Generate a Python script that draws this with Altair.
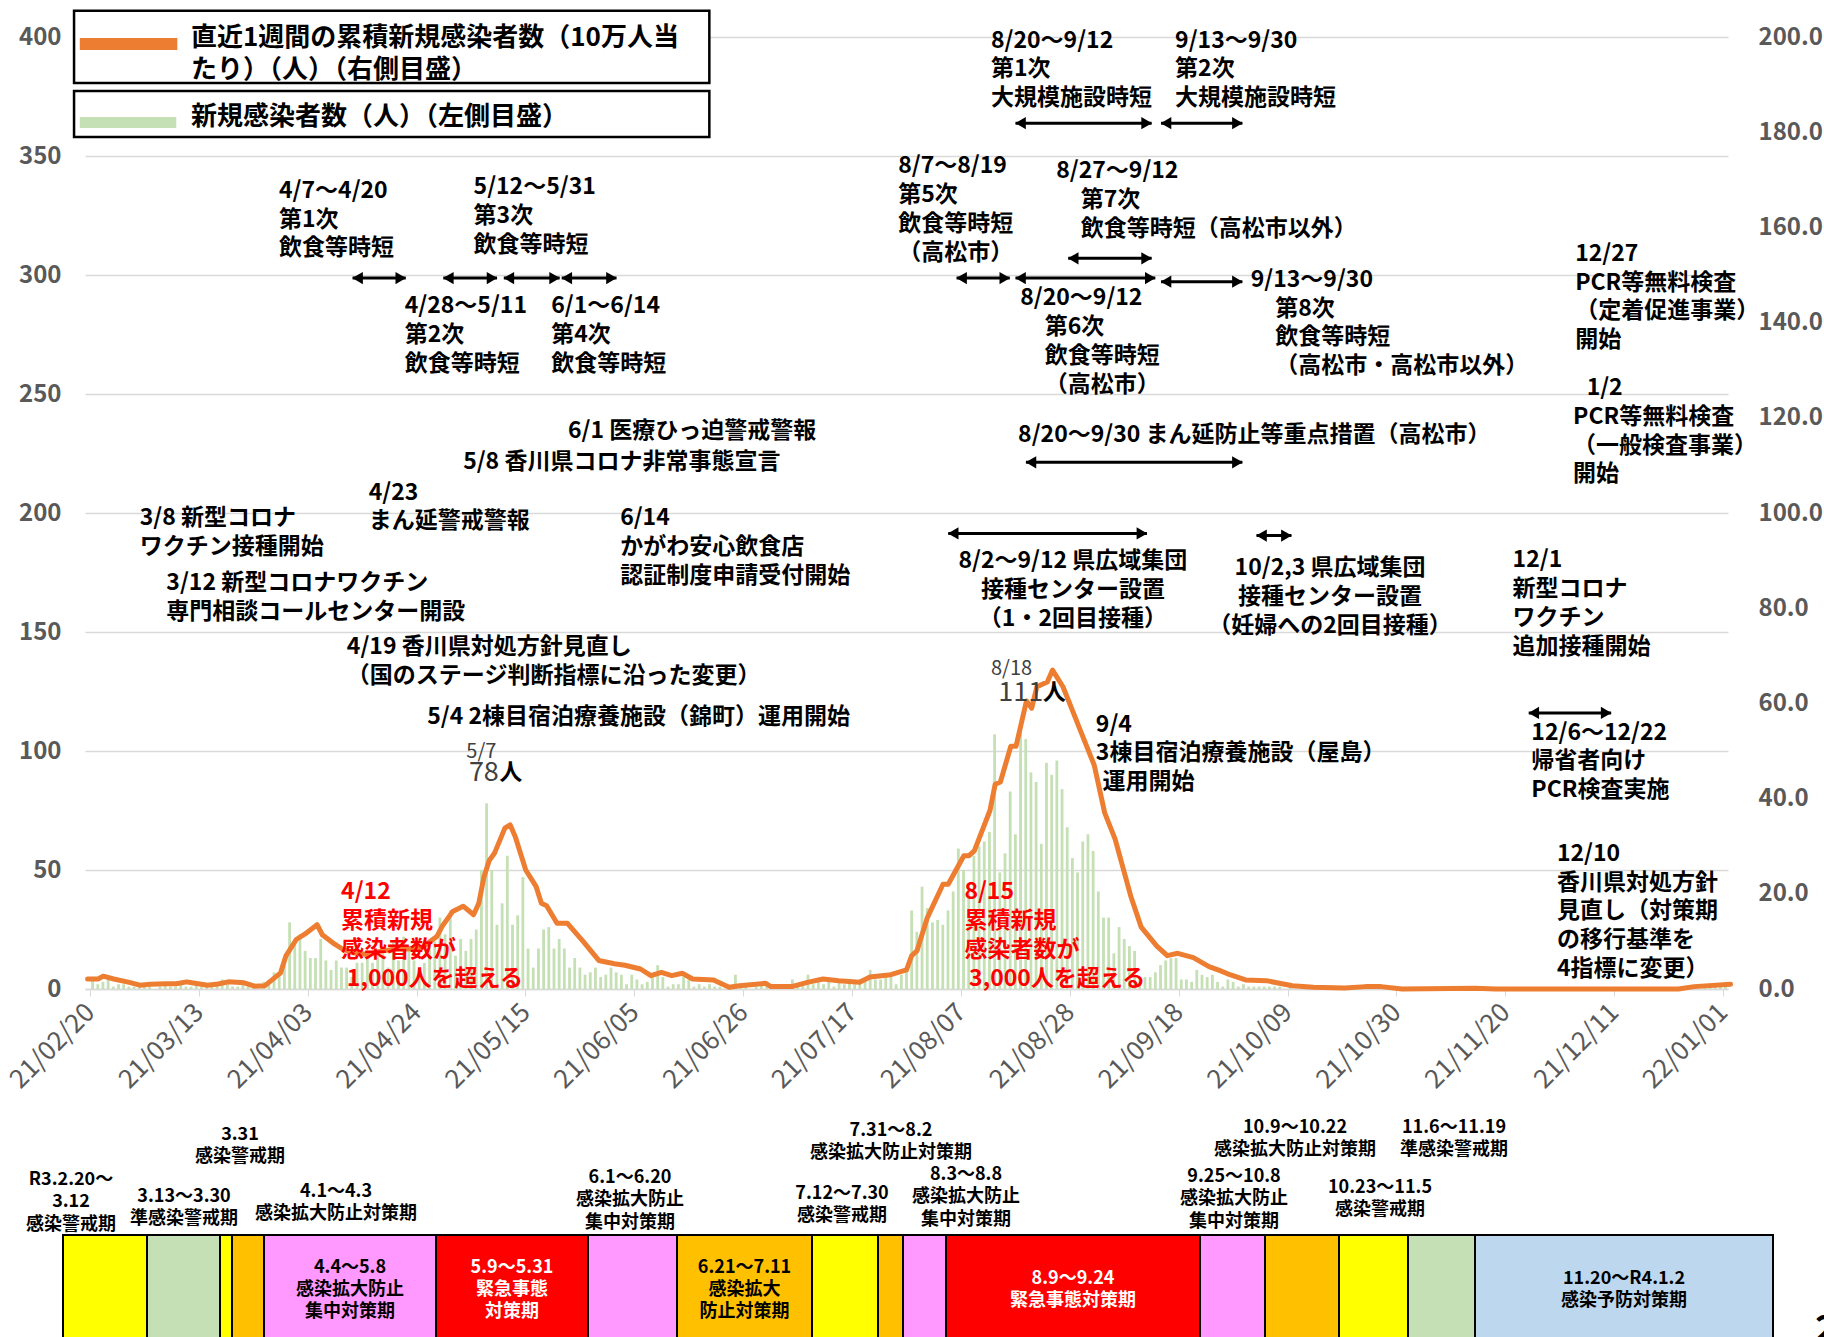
import altair as alt
import pandas as pd

FONT = "Noto Sans CJK JP"
START = pd.Timestamp("2021-02-20")

# ---------------- daily new cases (left axis), 2021-02-20 .. 2022-01-01 ----------------
cases_feb_mar = [4, 2, 3, 4, 1, 2, 2, 1, 1, 1,
                 1, 1, 0, 1, 2, 1, 1, 2, 1, 1,
                 2, 1, 1, 2, 3, 4, 3, 1, 1, 2,
                 1, 1, 0, 3, 2, 7, 6, 13, 28, 19]
cases_apr_may = [23, 16, 13, 13, 21, 12, 8, 12, 9, 9,
                 5, 11, 11, 15, 11, 15, 15, 9, 20, 12,
                 22, 16, 12, 9, 11, 18, 20, 30, 23, 33,
                 14, 21, 16, 21, 25, 50, 78, 50, 27, 36,
                 56, 27, 31, 47, 17, 9, 17, 25, 26, 17]
cases_jun_jul = [21, 17, 9, 13, 9, 6, 7, 9, 5, 6,
                 9, 7, 6, 2, 6, 4, 2, 3, 5, 10,
                 5, 1, 2, 2, 5, 4, 1, 2, 1, 2,
                 1, 1, 0, 0, 6, 1, 1, 0, 1, 2,
                 1, 0, 1, 1, 2, 4, 1, 2, 6, 2,
                 3, 2, 3, 1, 4, 2, 3, 2, 4, 3]
cases_jul_sep = [8, 4, 4, 5, 5, 2, 6, 8, 33, 24,
                 43, 34, 28, 29, 27, 33, 41, 59, 50, 44,
                 56, 60, 62, 66, 107, 49, 57, 83, 65, 111,
                 105, 91, 87, 61, 95, 90, 96, 84, 68, 55,
                 49, 62, 65, 58, 41, 30, 30, 15, 26, 21,
                 18, 16, 5, 5, 5, 7, 10, 12, 13, 13]
cases_sep_jan = [4, 4, 3, 8, 6, 5, 6, 3, 1, 4,
                 3, 1, 2, 1, 1, 1, 1, 1, 1, 1,
                 0, 1, 0, 0, 1, 0, 0, 0, 1, 1,
                 0, 0, 1, 0, 1, 1, 0, 1, 0, 0,
                 0, 0, 0, 0, 0, 0, 0, 0, 0, 0,
                 0, 0, 1, 0, 0, 0, 0, 0, 0, 0,
                 0, 0, 0, 0, 0, 0, 0, 0, 0, 0,
                 0, 0, 0, 0, 0, 0, 0, 0, 0, 0,
                 0, 0, 0, 0, 0, 0, 0, 0, 0, 0,
                 0, 0, 0, 0, 0, 0, 0, 0, 0, 1,
                 0, 2, 1, 1, 2, 3]
new_cases = cases_feb_mar + cases_apr_may + cases_jun_jul + cases_jul_sep + cases_sep_jan

# ---------------- 7-day cumulative per 100k (right axis) ----------------
line_day = [0, 2, 3, 5, 8, 10, 12, 15, 17, 19, 20, 23, 25, 27, 30, 32, 34, 35, 37, 38,
            40, 42, 44, 45, 47, 49, 51, 54, 56, 59, 61, 64, 67, 68, 70, 72, 74,
            75, 76, 77, 78, 80, 81, 82, 84, 86, 87, 88, 90, 92, 95, 98, 101, 103, 106,
            108, 110, 112, 114, 116, 120, 123, 125, 130, 131, 135, 138, 141, 144, 148,
            150, 154, 157, 158, 159, 161, 164, 165, 168, 169, 170, 173, 174, 175, 177, 178,
            180, 181, 182, 184, 185, 187, 189, 191, 193, 195, 197, 200, 202, 205, 207, 209,
            212, 215, 217, 219, 222, 226, 228, 231, 235, 241, 245, 248, 252, 266, 270,
            305, 308, 315]
line_val = [2.1, 2.1, 2.7, 2.1, 1.4, 0.8, 1.0, 1.1, 1.1, 1.5, 1.3, 0.8, 1.05, 1.5, 1.3, 0.6, 0.7, 1.6, 3.4, 6.9,
            10.4, 11.8, 13.5, 11.4, 9.7, 8.3, 7.6, 7.2, 7.9, 8.4, 8.4, 8.6, 11.1, 13.2, 16.3, 17.4, 15.6,
            18.0, 23.6, 27.0, 28.5, 33.8, 34.5, 32.0, 25.0, 21.5, 18.0, 17.5, 13.8, 13.8, 10.0, 6.0, 5.3, 5.0, 4.2,
            2.8, 3.5, 2.8, 3.3, 2.1, 1.9, 0.35, 0.7, 1.2, 0.5, 0.5, 1.4, 2.1, 1.75, 1.4,
            2.5, 3.0, 4.0, 7.0, 8.0, 15.0, 22.0, 22.0, 28.0, 28.0, 29.0, 37.5, 43.0, 43.5, 51.0, 51.0,
            60.5, 59.0, 63.5, 64.5, 67.0, 63.5, 58.0, 52.5, 47.0, 37.0, 31.5, 19.5, 13.0, 9.0, 7.0, 7.5,
            6.6, 4.7, 3.9, 3.0, 1.9, 1.75, 1.3, 0.7, 0.35, 0.2, 0.5, 0.5, 0.0, 0.15, 0.0,
            0.0, 0.5, 1.0]

tick_dates = ["2021-02-20", "2021-03-13", "2021-04-03", "2021-04-24", "2021-05-15", "2021-06-05",
              "2021-06-26", "2021-07-17", "2021-08-07", "2021-08-28", "2021-09-18", "2021-10-09",
              "2021-10-30", "2021-11-20", "2021-12-11", "2022-01-01"]
left_ticks = [0, 50, 100, 150, 200, 250, 300, 350, 400]
right_ticks = [0, 20, 40, 60, 80, 100, 120, 140, 160, 180, 200]

# ---------------- annotations: (day position, left-axis value, colour, lines) ----------------
ann_left = [
    (37.2, 335.4, "black", ["4/7～4/20", "第1次", "飲食等時短"]),
    (74.5, 336.8, "black", ["5/12～5/31", "第3次", "飲食等時短"]),
    (61.3, 286.9, "black", ["4/28～5/11", "第2次", "飲食等時短"]),
    (89.4, 286.9, "black", ["6/1～6/14", "第4次", "飲食等時短"]),
    (92.6, 234.5, "black", ["6/1 医療ひっ迫警戒警報"]),
    (72.5, 221.3, "black", ["5/8 香川県コロナ非常事態宣言"]),
    (54.4, 208.6, "black", ["4/23", "まん延警戒警報"]),
    (10.5, 197.8, "black", ["3/8 新型コロナ", "ワクチン接種開始"]),
    (102.6, 197.8, "black", ["6/14", "かがわ安心飲食店", "認証制度申請受付開始"]),
    (15.6, 170.4, "black", ["3/12 新型コロナワクチン", "専門相談コールセンター開設"]),
    (50.2, 143.5, "black", ["4/19 香川県対処方針見直し", "（国のステージ判断指標に沿った変更）"]),
    (65.6, 114.1, "black", ["5/4 2棟目宿泊療養施設（錦町）運用開始"]),
    (49.1, 40.6, "red", ["4/12", "累積新規", "感染者数が"]),
    (50.2, 4.3, "red", ["1,000人を超える"]),
    (155.9, 345.7, "black", ["8/7～8/19", "第5次", "飲食等時短", "（高松市）"]),
    (173.7, 398.5, "black", ["8/20～9/12", "第1次", "大規模施設時短"]),
    (209.0, 398.5, "black", ["9/13～9/30", "第2次", "大規模施設時短"]),
    (186.2, 343.7, "black", ["8/27～9/12"]),
    (190.9, 331.5, "black", ["第7次", "飲食等時短（高松市以外）"]),
    (179.3, 290.3, "black", ["8/20～9/12"]),
    (184.0, 278.1, "black", ["第6次", "飲食等時短", "（高松市）"]),
    (223.5, 297.7, "black", ["9/13～9/30"]),
    (228.2, 285.9, "black", ["第8次", "飲食等時短", "（高松市・高松市以外）"]),
    (178.9, 232.9, "black", ["8/20～9/30 まん延防止等重点措置（高松市）"]),
    (285.7, 308.9, "black", ["12/27", "PCR等無料検査", "（定着促進事業）", "開始"]),
    (287.9, 252.6, "black", ["1/2"]),
    (285.3, 240.4, "black", ["PCR等無料検査", "（一般検査事業）", "開始"]),
    (273.7, 180.2, "black", ["12/1", "新型コロナ", "ワクチン", "追加接種開始"]),
    (193.8, 111.1, "black", ["9/4", "3棟目宿泊療養施設（屋島）"]),
    (195.1, 86.9, "black", ["運用開始"]),
    (277.3, 107.7, "black", ["12/6～12/22", "帰省者向け", "PCR検査実施"]),
    (282.2, 56.8, "black", ["12/10", "香川県対処方針", "見直し（対策期", "の移行基準を", "4指標に変更）"]),
    (168.6, 40.6, "red", ["8/15", "累積新規", "感染者数が"]),
    (169.5, 4.3, "red", ["3,000人を超える"]),
    (79.4, 90.6, "black", ["人"]),
    (183.6, 124.4, "black", ["人"]),
]
ann_center = [
    (189.4, 179.7, "black", ["8/2～9/12 県広域集団", "接種センター設置", "（1・2回目接種）"]),
    (238.7, 176.7, "black", ["10/2,3 県広域集団", "接種センター設置", "（妊婦への2回目接種）"]),
]
peak_labels = [  # (day position, value, text, font size)
    (73.1, 99.4, "5/7", 20), (73.6, 90.6, "78", 27),
    (173.7, 134.6, "8/18", 20), (175.1, 124.4, "111", 27),
]
# arrows: (start day position, end day position, left-axis value)
arrows = [(51.3, 61.5, 298.7), (68.7, 79.0, 298.7), (80.3, 91.0, 298.7), (91.4, 101.9, 298.7),
          (167.1, 177.3, 298.7), (178.4, 204.5, 363.8), (206.3, 221.9, 363.8), (188.5, 204.5, 307.0),
          (178.4, 205.2, 298.7), (206.3, 221.9, 297.2), (180.4, 221.9, 221.3), (165.5, 203.6, 191.4),
          (224.6, 231.3, 190.5), (276.8, 292.6, 116.0)]

# legend (drawn as boxes)
legend_labels = [["直近1週間の累積新規感染者数（10万人当", "たり）（人）（右側目盛）"], ["新規感染者数（人）（左側目盛）"]]
legend_colors = ["#ED7D31", "#C5E0B4"]

# ---------------- bottom phase band ----------------
phase_levels = ["感染警戒期", "準感染警戒期", "感染警戒期", "感染拡大防止対策期", "感染拡大防止集中対策期",
                "緊急事態対策期", "感染拡大防止集中対策期", "感染拡大防止対策期", "感染警戒期",
                "感染拡大防止対策期", "感染拡大防止集中対策期", "緊急事態対策期", "感染拡大防止集中対策期",
                "感染拡大防止対策期", "感染警戒期", "準感染警戒期", "感染予防対策期"]
phase_widths = [84, 73, 12, 32, 172, 152, 89, 135, 66, 25, 43, 254, 65, 74, 69, 67, 298]
phase_inner = ["", "", "", "", "4.4～5.8\n感染拡大防止\n集中対策期", "5.9～5.31\n緊急事態\n対策期", "",
               "6.21～7.11\n感染拡大\n防止対策期", "", "", "", "8.9～9.24\n緊急事態対策期", "", "", "", "",
               "11.20～R4.1.2\n感染予防対策期"]
level_names = ["感染警戒期", "準感染警戒期", "感染拡大防止対策期", "感染拡大防止集中対策期", "緊急事態対策期", "感染予防対策期"]
level_colors = ["#FFFF00", "#C5E0B4", "#FFC000", "#FF99FF", "#FF0000", "#BDD7EE"]
# labels above the band: (band position, left-axis value, lines)
band_above = [
    (8, -80.3, ["R3.2.20～", "3.12", "感染警戒期"]),
    (177, -61.3, ["3.31", "感染警戒期"]),
    (121, -87.4, ["3.13～3.30", "準感染警戒期"]),
    (273, -85.3, ["4.1～4.3", "感染拡大防止対策期"]),
    (567, -79.4, ["6.1～6.20", "感染拡大防止", "集中対策期"]),
    (779, -86.1, ["7.12～7.30", "感染警戒期"]),
    (828, -59.7, ["7.31～8.2", "感染拡大防止対策期"]),
    (903, -78.2, ["8.3～8.8", "感染拡大防止", "集中対策期"]),
    (1171, -79.0, ["9.25～10.8", "感染拡大防止", "集中対策期"]),
    (1232, -58.4, ["10.9～10.22", "感染拡大防止対策期"]),
    (1317, -83.6, ["10.23～11.5", "感染警戒期"]),
    (1391, -58.4, ["11.6～11.19", "準感染警戒期"]),
]

# ---------------- build tables ----------------
LSTEP = 12.1      # annotation line step (axis units)
BSTEP = 9.4       # band label line step

df_bars = pd.DataFrame({"pos": [i + 0.5 for i in range(len(new_cases))], "cases": new_cases})
df_line = pd.DataFrame({"pos": [d + 0.5 for d in line_day], "val": line_val})
tick_days = [(pd.Timestamp(t) - START).days for t in tick_dates]


def explode(blocks, step):
    rows = []
    for x, v, col, lines in blocks:
        for i, t in enumerate(lines):
            rows.append({"pos": x, "v": v - i * step, "text": t, "col": col})
    return pd.DataFrame(rows)


df_ann_l = explode(ann_left, LSTEP)
df_ann_c = explode(ann_center, LSTEP)
df_peak = pd.DataFrame(peak_labels, columns=["pos", "v", "text", "fs"])
df_arrow = pd.DataFrame(arrows, columns=["a0", "a1", "v"])

df_leg_box = pd.DataFrame({"x0": [-2.1, -2.1], "x1": [119.7, 119.7], "y0": [411.0, 377.3], "y1": [380.7, 358.0]})
df_leg_sw = pd.DataFrame({"x0": [-1.0, -1.0], "x1": [17.7, 17.5], "y0": [399.6, 366.4], "y1": [394.5, 361.8],
                          "col": legend_colors})
df_leg_txt = pd.DataFrame({"pos": [20.3, 20.3, 20.3], "v": [399.6, 386.1, 366.4],
                           "text": legend_labels[0] + legend_labels[1]})

starts, acc = [], 0
for w in phase_widths:
    starts.append(acc)
    acc += w
df_band = pd.DataFrame({"b0": starts, "b1": [s + w for s, w in zip(starts, phase_widths)],
                        "level": phase_levels, "top": -103.4, "bot": -150.0})
inner_rows = []
for s, w, lab, lev in zip(starts, phase_widths, phase_inner, phase_levels):
    if not lab:
        continue
    lines = lab.split("\n")
    mid = -126.5
    for i, t in enumerate(lines):
        inner_rows.append({"bpos": s + w / 2, "v": mid + ((len(lines) - 1) / 2 - i) * BSTEP, "text": t,
                           "col": "white" if lev == "緊急事態対策期" else "black"})
df_inner = pd.DataFrame(inner_rows)
above_rows = []
for b, v, lines in band_above:
    for i, t in enumerate(lines):
        above_rows.append({"bpos": b, "v": v - i * BSTEP, "text": t})
df_above = pd.DataFrame(above_rows)
df_page = pd.DataFrame({"bpos": [1752], "v": [-143.3], "text": ["2"]})

# ---------------- scales ----------------
XS = alt.Scale(domain=[0, 315], nice=False, zero=False)
YL = alt.Scale(domain=[0, 400], nice=False, zero=False)
YR = alt.Scale(domain=[0, 200], nice=False, zero=False)
BS = alt.Scale(domain=[0, sum(phase_widths)], range=[-22, 1688], nice=False, zero=False)


def X(f):
    return alt.X(f, type="quantitative", scale=XS, axis=None)


def Y(f):
    return alt.Y(f, type="quantitative", scale=YL, axis=None)


def B(f):
    return alt.X(f, type="quantitative", scale=BS, axis=None)


bars = alt.Chart(df_bars).mark_bar(size=2.8, color="#C5E0B4").encode(
    x=alt.X("pos:Q", scale=XS, axis=alt.Axis(
        values=tick_days, labelExpr="timeFormat(datetime(2021, 1, 20 + datum.value), '%y/%m/%d')",
        labelAngle=315, labelAlign="right", labelBaseline="middle", labelFontSize=26,
        labelColor="#595959", labelFont=FONT, labelPadding=12, tickColor="#D9D9D9", tickSize=7,
        domainColor="#D9D9D9", domainWidth=1.5, grid=False, title=None, labelOverlap=False,
        labelFlush=False, labelBound=False)),
    y=alt.Y("cases:Q", scale=YL, axis=alt.Axis(
        values=left_ticks, grid=True, gridColor="#D9D9D9", gridWidth=1.5, domain=False, ticks=False,
        tickSize=0, labelFontSize=24, labelColor="#595959", labelFont=FONT, labelFontWeight="bold",
        labelPadding=24, title=None)),
)

line = alt.Chart(df_line).mark_line(color="#ED7D31", strokeWidth=5, strokeJoin="round", strokeCap="round").encode(
    x=X("pos"),
    y=alt.Y("val:Q", scale=YR, axis=alt.Axis(
        orient="right", values=right_ticks, format=".1f", grid=False, domain=False, ticks=False, tickSize=0,
        labelFontSize=24, labelColor="#595959", labelFont=FONT, labelFontWeight="bold", labelPadding=30,
        title=None)),
)

arrow_shaft = alt.Chart(df_arrow).mark_rule(color="black", strokeWidth=3).encode(
    x=X("a0"), x2="a1", y=Y("v"))
arrow_l = alt.Chart(df_arrow).mark_point(shape="triangle-left", filled=True, color="black", opacity=1,
                                         size=150, xOffset=5).encode(x=X("a0"), y=Y("v"))
arrow_r = alt.Chart(df_arrow).mark_point(shape="triangle-right", filled=True, color="black", opacity=1,
                                         size=150, xOffset=-5).encode(x=X("a1"), y=Y("v"))

leg_box = alt.Chart(df_leg_box).mark_rect(fill="white", stroke="black", strokeWidth=2.5).encode(
    x=X("x0"), x2="x1", y=Y("y0"), y2="y1")
leg_sw = alt.Chart(df_leg_sw).mark_rect().encode(
    x=X("x0"), x2="x1", y=Y("y0"), y2="y1", color=alt.Color("col:N", scale=None, legend=None))
leg_txt = alt.Chart(df_leg_txt).mark_text(align="left", baseline="middle", font=FONT, fontSize=26,
                                          fontWeight="bold", color="black").encode(
    x=X("pos"), y=Y("v"), text="text:N")

ann_l = alt.Chart(df_ann_l).mark_text(align="left", baseline="middle", font=FONT, fontSize=23,
                                      fontWeight="bold").encode(
    x=X("pos"), y=Y("v"), text="text:N", color=alt.Color("col:N", scale=None, legend=None))
ann_c = alt.Chart(df_ann_c).mark_text(align="center", baseline="middle", font=FONT, fontSize=23,
                                      fontWeight="bold").encode(
    x=X("pos"), y=Y("v"), text="text:N", color=alt.Color("col:N", scale=None, legend=None))
peak = alt.Chart(df_peak).mark_text(align="left", baseline="middle", font=FONT, color="#404040").encode(
    x=X("pos"), y=Y("v"), text="text:N", size=alt.Size("fs:Q", scale=None, legend=None))

band = alt.Chart(df_band).mark_rect(stroke="black", strokeWidth=2).encode(
    x=B("b0"), x2="b1", y=Y("top"), y2="bot",
    color=alt.Color("level:N", scale=alt.Scale(domain=level_names, range=level_colors), legend=None))
band_in = alt.Chart(df_inner).mark_text(align="center", baseline="middle", font=FONT, fontSize=18,
                                        fontWeight="bold").encode(
    x=B("bpos"), y=Y("v"), text="text:N", color=alt.Color("col:N", scale=None, legend=None))
band_up = alt.Chart(df_above).mark_text(align="center", baseline="middle", font=FONT, fontSize=18,
                                        fontWeight="bold", color="black").encode(
    x=B("bpos"), y=Y("v"), text="text:N")
page = alt.Chart(df_page).mark_text(align="left", baseline="middle", font=FONT, fontSize=36,
                                    fontWeight="bold", color="black").encode(
    x=B("bpos"), y=Y("v"), text="text:N")

chart = alt.layer(
    bars, line, arrow_shaft, arrow_l, arrow_r, leg_box, leg_sw, leg_txt,
    ann_l, ann_c, peak, band, band_in, band_up, page
).resolve_scale(x="independent", y="independent").properties(
    width=1643, height=952,
    padding={"left": 85, "top": 37, "right": 96, "bottom": 348},
    autosize=alt.AutoSizeParams(type="none"),
    background="white",
).configure_view(stroke=None)

chart.save("out.html", embed_options={"renderer": "svg", "actions": False})
